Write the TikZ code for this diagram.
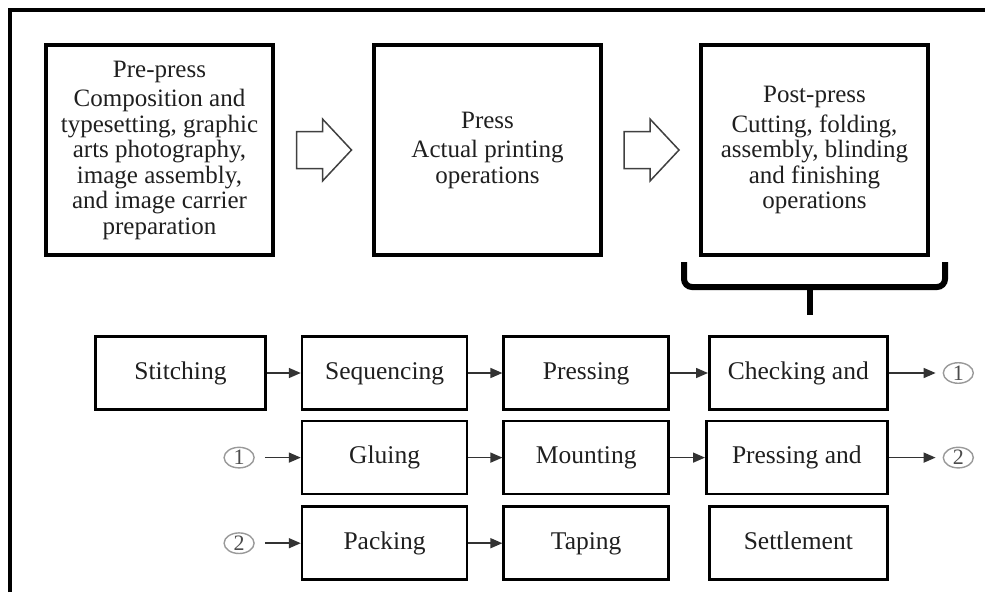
\documentclass[tikz,border=0pt]{standalone}
\usepackage{fontspec}
\setmainfont{Liberation Serif}
\usepackage{tikz}
\usetikzlibrary{arrows.meta,positioning,calc,shapes}
\tikzset{
  stage/.style={draw,line width=4pt,minimum width=227pt,minimum height=210pt,
    align=center,text=black!88,font=\fontsize{25}{25.5}\selectfont},
  task/.style={draw,line width=2.6pt,minimum height=73pt,inner sep=2pt,
    text height=17pt,text depth=5pt,
    text=black!88,font=\fontsize{25.5}{28}\selectfont},
  link/.style={-{Triangle[length=12pt,width=10pt]},line width=1.5pt,color=black!80},
  marker/.style={ellipse,draw=black!40,line width=1.4pt,minimum width=30pt,
    minimum height=20pt,inner sep=0pt,text=black!70,font=\fontsize{22}{22}\selectfont},
  hollow/.style={draw=black!75,line width=1.5pt,fill=white},
  brace/.style={line width=6pt,rounded corners=8pt}
}

\begin{document}
\begin{tikzpicture}[x=1pt,y=-1pt]
  \useasboundingbox (0,0) rectangle (985,592);
  \draw[line width=4pt] (9.5,592) |- (985,9.5);
  % three stages
  \node[stage] (pre) at (159.5,150) {Pre-press\\[4pt]Composition and\\typesetting, graphic\\arts photography,\\image assembly,\\and image carrier\\preparation};
  \node[stage, right=97pt of pre] (press) {Press\\[4pt]Actual printing\\operations};
  \node[stage, right=96pt of press] (post) {Post-press\\[4pt]Cutting, folding,\\assembly, blinding\\and finishing\\operations};
  \coordinate (h1) at ($(pre.east)!.5!(press.west)$);
  \coordinate (h2) at ($(press.east)!.5!(post.west)$);
  \foreach \h in {h1,h2}
    \draw[hollow] ([shift={(-27pt,18.5pt)}]\h) -- ++(26pt,0pt) -- ++(0pt,12.5pt)
      -- ++(29pt,-31pt) -- ++(-29pt,-31pt) -- ++(0pt,12.5pt) -- ++(-26pt,0pt) -- cycle;
  \draw[brace] ([xshift=-15pt,yshift=-5pt]post.south west)
    |- ([xshift=15pt,yshift=-30pt]post.south east) -- ([xshift=15pt,yshift=-5pt]post.south east);
  \draw[line width=6pt] ([xshift=-5pt,yshift=-27pt]post.south) -- ++(0pt,-31pt);
  % post-press tasks
  \node[task, minimum width=170pt] (stitch) at (180.5,373) {Stitching};
  \node[task, minimum width=165pt, right=34pt of stitch] (seq) {Sequencing};
  \node[task, minimum width=165pt, right=34pt of seq] (pressing) {Pressing};
  \node[task, minimum width=178pt, right=38pt of pressing] (check) {Checking and};
  \node[task, minimum width=165pt, below=9pt of seq] (glue) {Gluing};
  \node[task, minimum width=165pt, below=9pt of pressing] (mount) {Mounting};
  \node[task, minimum width=181pt, below=9pt of check, xshift=-1.5pt] (pressand) {Pressing and};
  \node[task, minimum width=165pt, below=10pt of glue] (pack) {Packing};
  \node[task, minimum width=165pt, below=10pt of mount] (tape) {Taping};
  \node[task, minimum width=178pt, below=10pt of check|-pressand.south] (settle) {Settlement};
  \node[marker, right=54pt of check] (c1out) {1};
  \node[marker, right=54pt of pressand] (c2out) {2};
  \node[marker, left=46pt of glue] (c1in) {1};
  \node[marker, left=46pt of pack] (c2in) {2};
  \draw[link] (stitch) -- (seq);
  \draw[link] (seq) -- (pressing);
  \draw[link] (pressing) -- (check);
  \draw[link, shorten >=7pt] (check) -- (c1out);
  \draw[link, shorten <=10pt] (c1in) -- (glue);
  \draw[link] (glue) -- (mount);
  \draw[link] (mount) -- (pressand);
  \draw[link, shorten >=7pt] (pressand) -- (c2out);
  \draw[link, shorten <=10pt] (c2in) -- (pack);
  \draw[link] (pack) -- (tape);
\end{tikzpicture}
\end{document}
